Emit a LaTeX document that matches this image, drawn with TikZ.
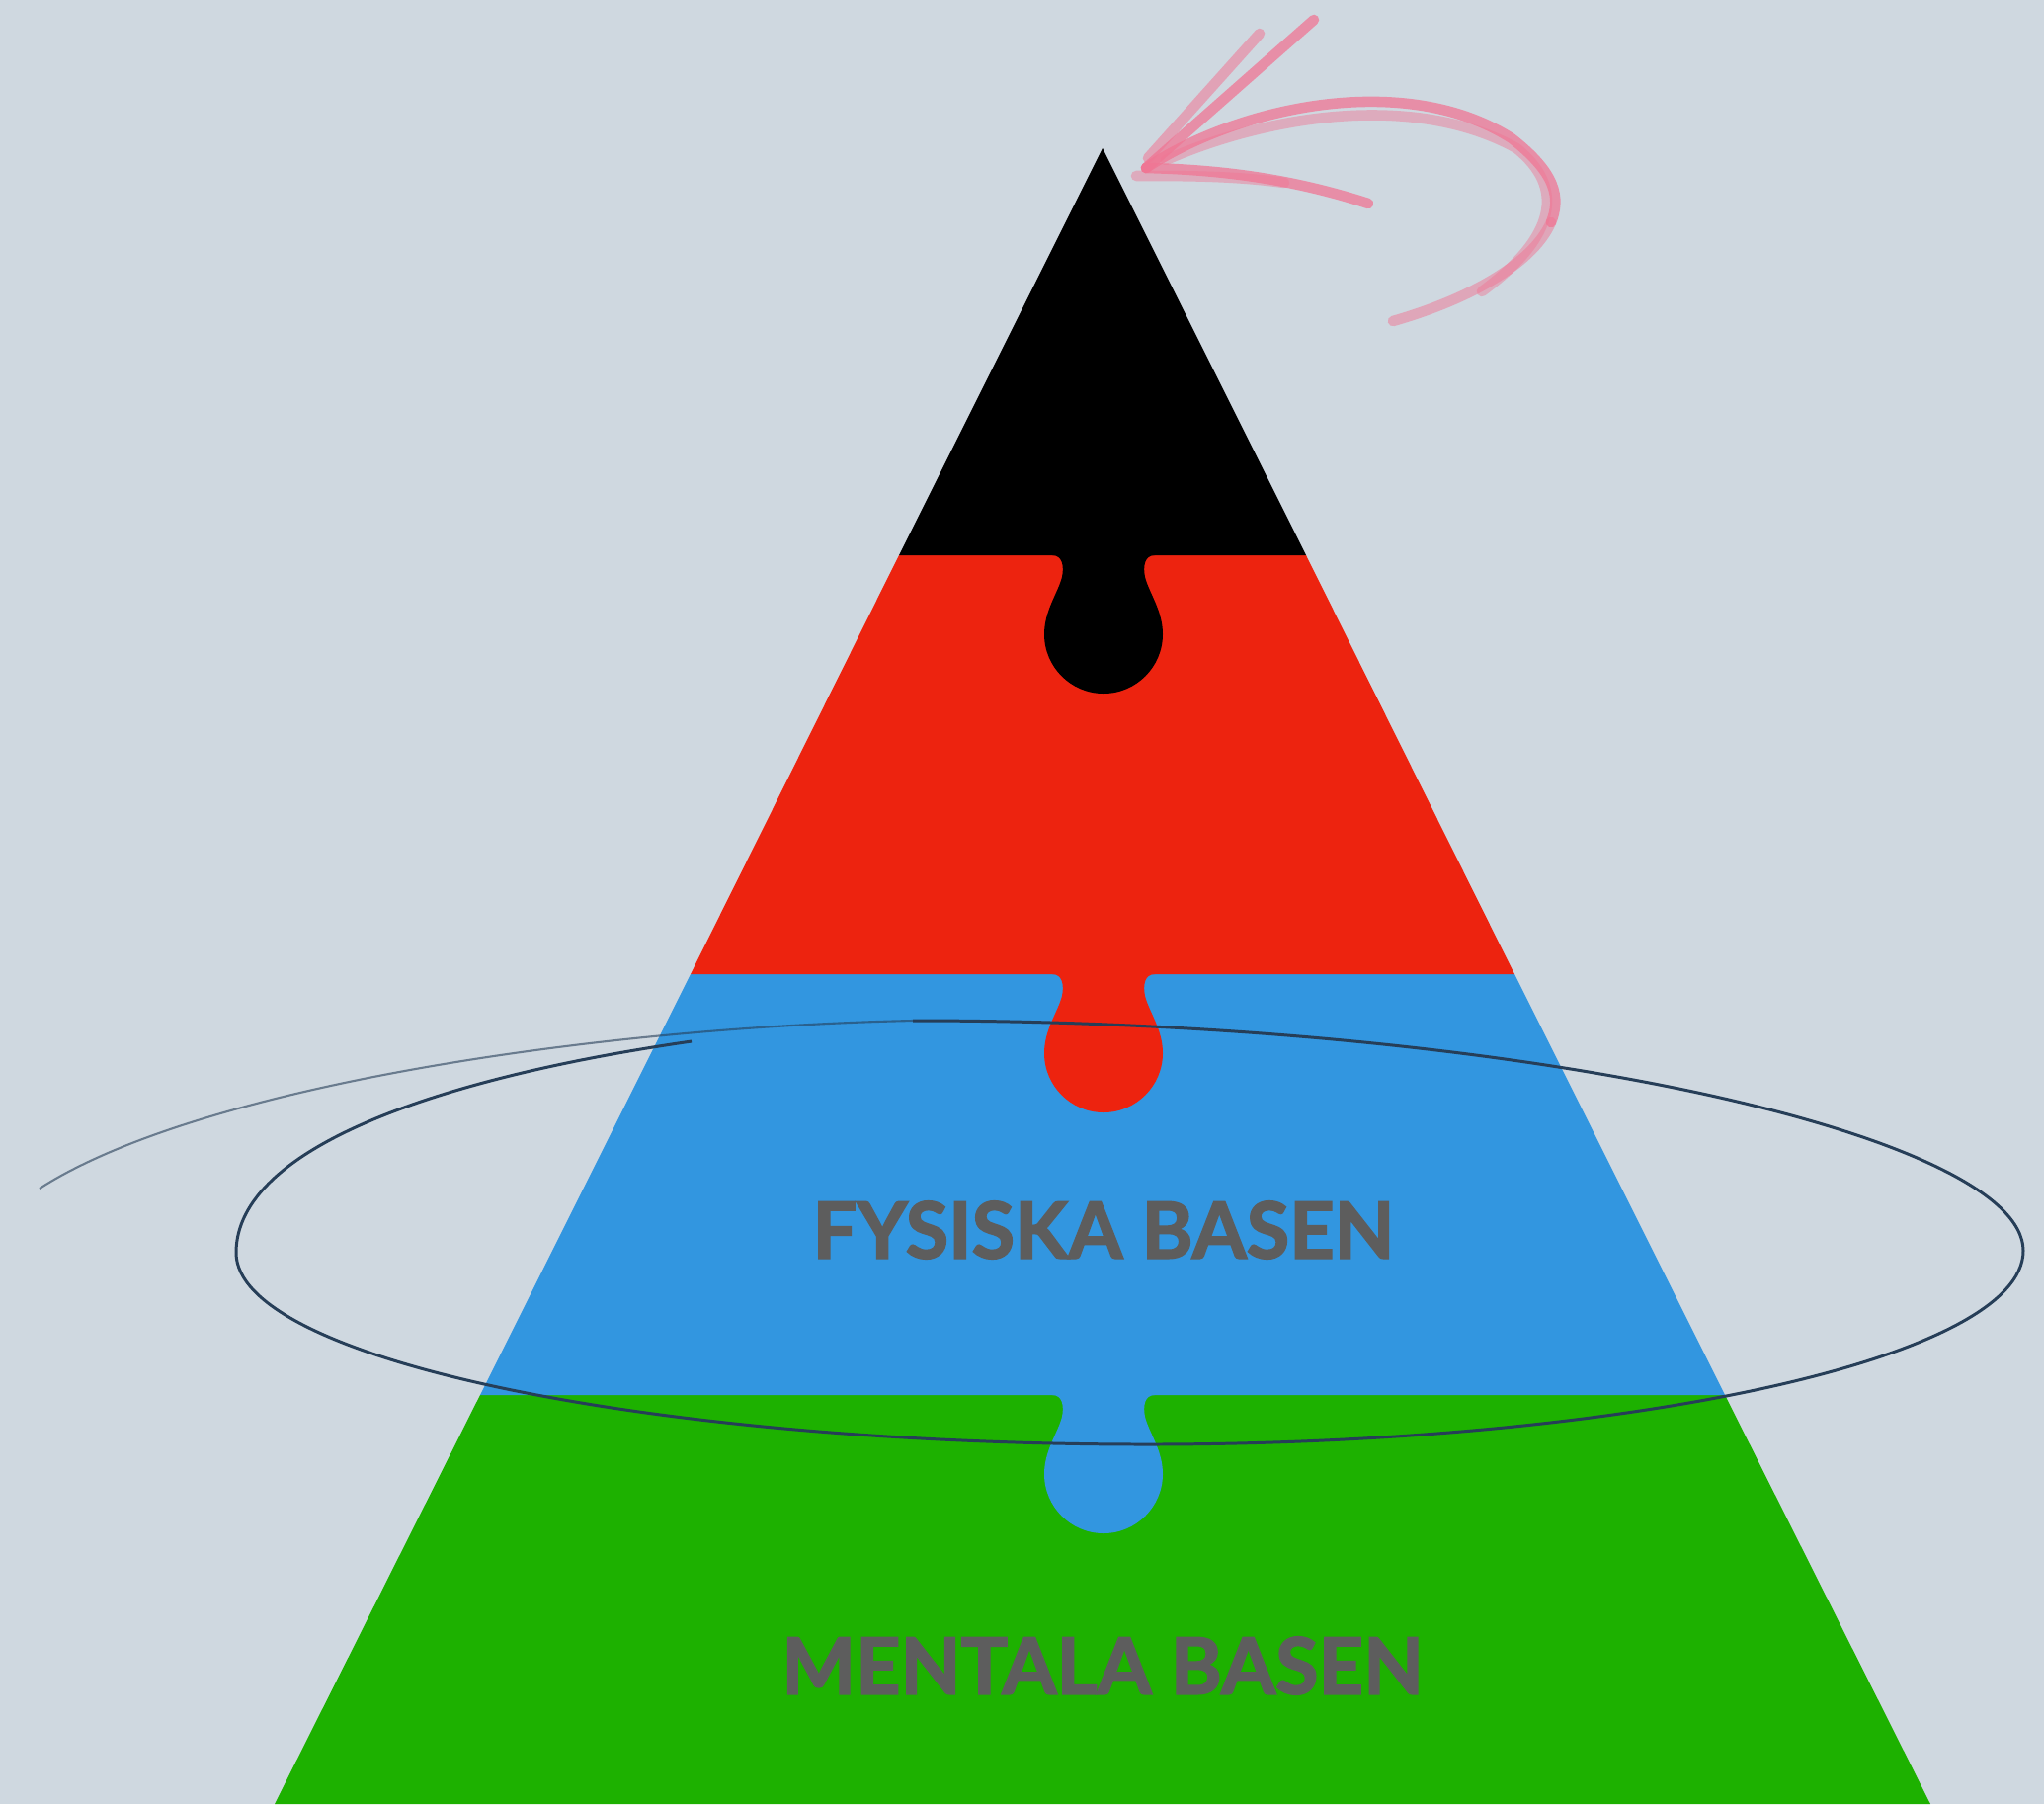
\documentclass[tikz,border=0pt]{standalone}
\usepackage{fontspec}
\setmainfont{Lato}
\newfontfamily\heavyfont{Lato}[BoldFeatures={FakeBold=2.2}]
\usetikzlibrary{positioning}

\definecolor{bgcolor}{RGB}{207,216,224}
\definecolor{redband}{RGB}{237,35,15}
\definecolor{blueband}{RGB}{50,150,224}
\definecolor{greenband}{RGB}{29,177,0}
\definecolor{labelgray}{RGB}{93,93,93}
\definecolor{ringcolor}{RGB}{38,62,88}
\definecolor{pinkarrow}{RGB}{240,118,148}

\tikzset{
  baselabel/.style={inner sep=0pt, text=labelgray, font=\heavyfont\fontsize{22.5}{27}\selectfont\bfseries},
  ringline/.style={draw=ringcolor, line width=0.85pt},
  sketch/.style={draw=pinkarrow, line width=3pt, line cap=round, opacity=0.75},
  puzzletab/.pic={
    \fill (-52,0) .. controls (-41,0) and (-40,12) .. (-42,22)
      .. controls (-46,38) and (-60,56) .. (-60,80)
      .. controls (-60,113) and (-33,140) .. (0,140)
      .. controls (33,140) and (60,113) .. (60,80)
      .. controls (60,56) and (46,38) .. (42,22)
      .. controls (40,12) and (41,0) .. (52,0) -- cycle;
  }
}

\begin{document}
\begin{tikzpicture}[x=0.01cm, y=-0.01cm]
  \fill[bgcolor] (0,0) rectangle (2069,1826);
  \useasboundingbox (0,0) rectangle (2069,1826);

  % pyramid, bottom band first so each tab lies on the band below
  \fill[greenband] (486,1412) -- (1746,1412) -- (1954,1826) -- (278,1826) -- cycle;
  \fill[blueband] (699,986) -- (1533,986) -- (1746,1412) -- (486,1412) -- cycle;
  \pic[color=blueband] at (1117,1412) {puzzletab};
  \fill[redband] (910,562) -- (1322,562) -- (1533,986) -- (699,986) -- cycle;
  \pic[color=redband] at (1117,986) {puzzletab};
  \coordinate (apex) at (1116,150);
  \fill[black] (apex) -- (1322,562) -- (910,562) -- cycle;
  \pic[color=black] at (1117,562) {puzzletab};

  \node[baselabel] (fysiska) at (1117,1245) {FYSISKA BASEN};
  \node[baselabel] (mentala) at (1116,1686) {MENTALA BASEN};

  % hand drawn ring round the blue band
  \draw[ringline, opacity=0.6, line width=0.6pt] (40,1203) .. controls (200,1100) and (600,1040) .. (924,1033);
  \draw[ringline] (924,1033) .. controls (1544,1033) and (2048,1150) .. (2048,1266)
    .. controls (2048,1374) and (1651,1462) .. (1161,1462)
    .. controls (652,1462) and (239,1375) .. (239,1268)
    .. controls (239,1160) and (450,1090) .. (700,1054);

  % pink arrow at the top
  \coordinate (arrowtip) at (1160,170);
  \draw[sketch] (arrowtip) .. controls (1250,110) and (1420,70) .. (1530,140)
    .. controls (1575,175) and (1580,200) .. (1570,225);
  \draw[sketch, opacity=0.5] (1570,225) .. controls (1550,270) and (1480,305) .. (1410,325);
  \draw[sketch, opacity=0.45] (1180,162) .. controls (1280,118) and (1430,92) .. (1535,150)
    .. controls (1585,190) and (1575,240) .. (1500,295);
  \draw[sketch] (arrowtip) -- (1330,20);
  \draw[sketch, opacity=0.55] (1162,160) -- (1275,34);
  \draw[sketch] (arrowtip) .. controls (1250,172) and (1320,185) .. (1385,206);
  \draw[sketch, opacity=0.45] (1150,178) .. controls (1200,178) and (1250,178) .. (1300,185);
\end{tikzpicture}
\end{document}
